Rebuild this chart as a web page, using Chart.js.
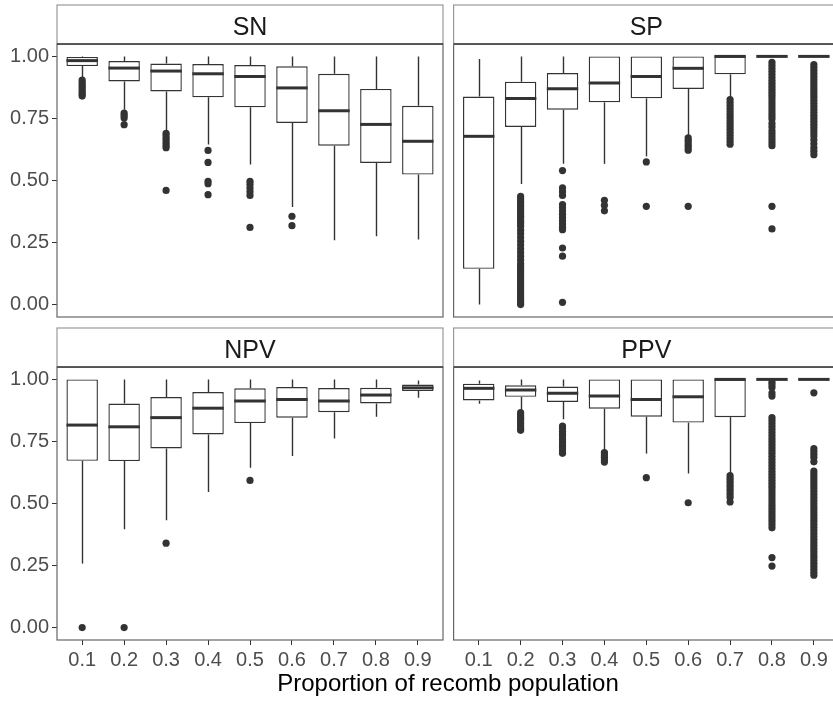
<!DOCTYPE html>
<html><head><meta charset="utf-8">
<script src="https://cdn.jsdelivr.net/npm/chart.js@4.4.1/dist/chart.umd.min.js"></script>
<style>
html,body{margin:0;padding:0;background:#fff;}
body{width:833px;height:702px;overflow:hidden;position:relative;}
canvas{position:absolute;}
#xtitle{position:absolute;left:0;width:896px;top:671px;line-height:24px;text-align:center;font-family:"Liberation Sans",Arial,sans-serif;font-size:24px;color:#000;white-space:nowrap;}
</style></head><body>
<canvas id="c0" width="450" height="340" style="left:0;top:0"></canvas>
<canvas id="c1" width="395" height="340" style="left:450px;top:0"></canvas>
<canvas id="c2" width="450" height="380" style="left:0;top:322px"></canvas>
<canvas id="c3" width="395" height="380" style="left:450px;top:322px"></canvas>
<div id="xtitle">Proportion of recomb population</div>
<script>
// ---- data ----
const categories = [0.1,0.2,0.3,0.4,0.5,0.6,0.7,0.8,0.9];
const xTickLabels = ['0.1','0.2','0.3','0.4','0.5','0.6','0.7','0.8','0.9'];
const yTicks = [0,0.25,0.5,0.75,1];
const yTickLabels = ['0.00','0.25','0.50','0.75','1.00'];
const panelNames = ['SN','SP','NPV','PPV'];

const SN_upper  = [1.0,1.0,1.0,1.0,1.0,1.0,1.0,1.0,1.0];
const SN_q3     = [0.998,0.981,0.971,0.969,0.965,0.960,0.930,0.869,0.801];
const SN_median = [0.983,0.953,0.941,0.930,0.919,0.873,0.781,0.726,0.658];
const SN_q1     = [0.961,0.899,0.859,0.835,0.795,0.732,0.640,0.571,0.524];
const SN_lower  = [0.912,0.785,0.698,0.645,0.564,0.393,0.259,0.275,0.262];
const SN_out = [
  [0.905,0.895,0.885,0.876,0.866,0.857,0.848,0.84],
  [0.772,0.763,0.752,0.725],
  [0.69,0.68,0.67,0.66,0.65,0.64,0.632,0.46],
  [0.621,0.573,0.497,0.487,0.443],
  [0.497,0.485,0.47,0.455,0.44,0.311],
  [0.356,0.318],
  [],[],[]
];

const SP_upper  = [0.99,1.0,1.0,1.0,1.0,1.0,1.0,1.0,1.0];
const SP_q3     = [0.838,0.898,0.933,1.0,1.0,1.0,1.0,1.0,1.0];
const SP_median = [0.678,0.830,0.870,0.893,0.919,0.952,1.0,1.0,1.0];
const SP_q1     = [0.144,0.716,0.785,0.815,0.831,0.869,0.928,1.0,1.0];
const SP_lower  = [0.0,0.486,0.567,0.567,0.597,0.678,0.832,1.0,1.0];
const SP_out = [
  [],
  [0.436,0.426,0.416,0.406,0.396,0.386,0.376,0.366,0.356,0.346,0.336,0.326,0.316,0.30,0.285,0.27,0.255,0.24,0.225,0.21,0.195,0.18,0.165,0.155,0.145,0.135,0.125,0.115,0.105,0.095,0.085,0.075,0.065,0.055,0.045,0.035,0.025,0.015,0.006,0.0],
  [0.540,0.470,0.455,0.440,0.403,0.39,0.377,0.364,0.351,0.338,0.325,0.312,0.302,0.228,0.195,0.009],
  [0.42,0.40,0.378],
  [0.575,0.396],
  [0.672,0.662,0.652,0.642,0.632,0.622,0.396],
  [0.826,0.814,0.802,0.79,0.778,0.766,0.754,0.742,0.73,0.718,0.706,0.694,0.682,0.67,0.658,0.646],
  [0.976,0.964,0.952,0.94,0.928,0.916,0.904,0.892,0.88,0.868,0.856,0.844,0.832,0.82,0.808,0.796,0.784,0.772,0.76,0.748,0.73,0.716,0.70,0.688,0.676,0.664,0.652,0.64,0.396,0.305],
  [0.967,0.955,0.943,0.931,0.919,0.907,0.895,0.883,0.871,0.859,0.847,0.835,0.823,0.811,0.799,0.787,0.775,0.763,0.751,0.739,0.727,0.715,0.703,0.691,0.679,0.664,0.648,0.632,0.618,0.604]
];

const NPV_upper  = [1.0,1.0,1.0,1.0,1.0,1.0,1.0,1.0,0.996];
const NPV_q3     = [1.0,0.903,0.929,0.949,0.964,0.969,0.965,0.966,0.979];
const NPV_median = [0.816,0.809,0.846,0.884,0.913,0.919,0.913,0.937,0.966];
const NPV_q1     = [0.672,0.671,0.722,0.778,0.824,0.846,0.868,0.903,0.953];
const NPV_lower  = [0.258,0.396,0.433,0.546,0.644,0.691,0.762,0.850,0.926];
const NPV_out = [[0.0],[0.0],[0.34],[],[0.593],[],[],[],[]];

const PPV_upper  = [0.996,1.0,1.0,1.0,1.0,1.0,1.0,1.0,1.0];
const PPV_q3     = [0.983,0.976,0.971,1.0,1.0,1.0,1.0,1.0,1.0];
const PPV_median = [0.964,0.957,0.944,0.933,0.919,0.930,1.0,1.0,1.0];
const PPV_q1     = [0.915,0.930,0.909,0.882,0.850,0.826,0.848,1.0,1.0];
const PPV_lower  = [0.902,0.875,0.839,0.707,0.701,0.621,0.617,1.0,1.0];
const PPV_out = [
  [],
  [0.866,0.857,0.848,0.839,0.83,0.821,0.812,0.803,0.795],
  [0.812,0.801,0.79,0.779,0.768,0.757,0.746,0.735,0.724,0.713,0.702],
  [0.705,0.695,0.686,0.676,0.667],
  [0.604],
  [0.503],
  [0.612,0.601,0.59,0.579,0.568,0.557,0.546,0.535,0.524,0.506],
  [0.989,0.978,0.967,0.945,0.933,0.846,0.834,0.822,0.81,0.798,0.786,0.774,0.762,0.75,0.738,0.726,0.714,0.702,0.69,0.678,0.666,0.654,0.642,0.63,0.618,0.606,0.594,0.582,0.57,0.558,0.546,0.534,0.522,0.51,0.498,0.486,0.474,0.462,0.45,0.438,0.426,0.414,0.402,0.282,0.248],
  [0.946,0.721,0.709,0.697,0.685,0.668,0.631,0.619,0.607,0.595,0.583,0.571,0.559,0.547,0.535,0.523,0.511,0.499,0.487,0.475,0.463,0.451,0.439,0.427,0.415,0.403,0.391,0.379,0.367,0.355,0.343,0.331,0.319,0.307,0.295,0.283,0.271,0.259,0.247,0.235,0.223,0.211]
];

// ---- drawing ----
const FONT = '"Liberation Sans", Arial, sans-serif';
const LINE = '#333333';

const boxPlugin = {
  id: 'boxExtras',
  beforeDatasetsDraw(chart, args, o) {
    const {ctx, scales:{x, y}} = chart;
    ctx.save();
    ctx.strokeStyle = LINE; ctx.lineWidth = 1.4;
    categories.forEach((c, i) => {
      const px = Math.round(x.getPixelForValue(c)) + 0.5;
      ctx.beginPath();
      ctx.moveTo(px, y.getPixelForValue(o.upper[i])); ctx.lineTo(px, y.getPixelForValue(o.q3[i]));
      ctx.moveTo(px, y.getPixelForValue(o.q1[i])); ctx.lineTo(px, y.getPixelForValue(o.lower[i]));
      ctx.stroke();
    });
    ctx.restore();
  },
  afterDatasetDraw(chart, args, o) {
    if (args.meta.type !== 'bar') return;
    const {ctx, scales:{y}} = chart;
    ctx.save();
    ctx.strokeStyle = LINE; ctx.lineWidth = 3;
    args.meta.data.forEach((bar, i) => {
      const h = bar.width / 2;
      const py = y.getPixelForValue(o.median[i]);
      ctx.beginPath(); ctx.moveTo(bar.x - h, py); ctx.lineTo(bar.x + h, py); ctx.stroke();
    });
    ctx.restore();
  },
  afterDraw(chart, args, o) {
    const {ctx, chartArea:a} = chart;
    ctx.save();
    ctx.strokeStyle = '#666666'; ctx.lineWidth = 1.2;
    ctx.strokeRect(a.left, a.top, a.right - a.left, a.bottom - a.top);
    const st = a.top - 39;
    ctx.fillStyle = '#ffffff';
    ctx.fillRect(a.left, st, a.right - a.left, 39);
    ctx.strokeStyle = '#999999'; ctx.lineWidth = 1.2;
    ctx.strokeRect(a.left, st, a.right - a.left, 39);
    ctx.strokeStyle = '#3a3a3a'; ctx.lineWidth = 1.6;
    ctx.beginPath(); ctx.moveTo(a.left, a.top); ctx.lineTo(a.right, a.top); ctx.stroke();
    ctx.fillStyle = '#1a1a1a';
    ctx.font = '25px ' + FONT;
    ctx.textAlign = 'center'; ctx.textBaseline = 'alphabetic';
    ctx.fillText(o.name, (a.left + a.right) / 2, st + 30);
    ctx.restore();
  }
};

function makePanel(id, name, upper, q3, median, q1, lower, out, showX, showY, padding) {
  const boxes = categories.map((c, i) => ({x: c, y: [q1[i], q3[i]]}));
  const pts = [];
  out.forEach((list, i) => list.forEach(v => pts.push({x: categories[i], y: v})));
  new Chart(document.getElementById(id), {
    type: 'bar',
    data: {
      datasets: [
        {type: 'scatter', data: pts, pointRadius: 3.6, pointHoverRadius: 3.6,
         pointBackgroundColor: LINE, pointBorderWidth: 0, clip: false},
        {type: 'bar', data: boxes, backgroundColor: '#ffffff', borderColor: LINE,
         borderWidth: 1.4, borderSkipped: false, categoryPercentage: 1, barPercentage: 0.75}
      ]
    },
    options: {
      responsive: false, animation: false, events: [],
      layout: {padding},
      plugins: {legend: {display: false}, tooltip: {enabled: false},
        boxExtras: {name, upper, q3, median, q1, lower}},
      scales: {
        x: {type: 'linear', min: 0.04, max: 0.96, offset: false, display: showX,
          afterBuildTicks: s => { s.ticks = categories.map(v => ({value: v})); },
          afterFit: s => { if (showX) s.height = 40; },
          ticks: {callback: (v, i) => xTickLabels[i], color: '#4d4d4d', padding: 3,
            font: {family: FONT, size: 20}, maxRotation: 0, autoSkip: false},
          grid: {drawOnChartArea: false, drawTicks: true, tickLength: 5, color: LINE, offset: false},
          border: {display: false}},
        y: {type: 'linear', min: -0.05, max: 1.05, display: showY,
          afterBuildTicks: s => { s.ticks = yTicks.map(v => ({value: v})); },
          afterFit: s => { if (showY) s.width = 57; },
          ticks: {callback: (v, i) => yTickLabels[i], color: '#4d4d4d', padding: 3,
            font: {family: FONT, size: 20}},
          grid: {drawOnChartArea: false, drawTicks: true, tickLength: 5, color: LINE},
          border: {display: false}}
      }
    },
    plugins: [boxPlugin]
  });
}

makePanel('c0', panelNames[0], SN_upper, SN_q3, SN_median, SN_q1, SN_lower, SN_out, false, true,
  {top: 44, left: 0, right: 7, bottom: 23});
makePanel('c1', panelNames[1], SP_upper, SP_q3, SP_median, SP_q1, SP_lower, SP_out, false, false,
  {top: 44, left: 3, right: 6, bottom: 23});
makePanel('c2', panelNames[2], NPV_upper, NPV_q3, NPV_median, NPV_q1, NPV_lower, NPV_out, true, true,
  {top: 45, left: 0, right: 7, bottom: 22});
makePanel('c3', panelNames[3], PPV_upper, PPV_q3, PPV_median, PPV_q1, PPV_lower, PPV_out, true, false,
  {top: 45, left: 3, right: 6, bottom: 22});
</script>
</body></html>
